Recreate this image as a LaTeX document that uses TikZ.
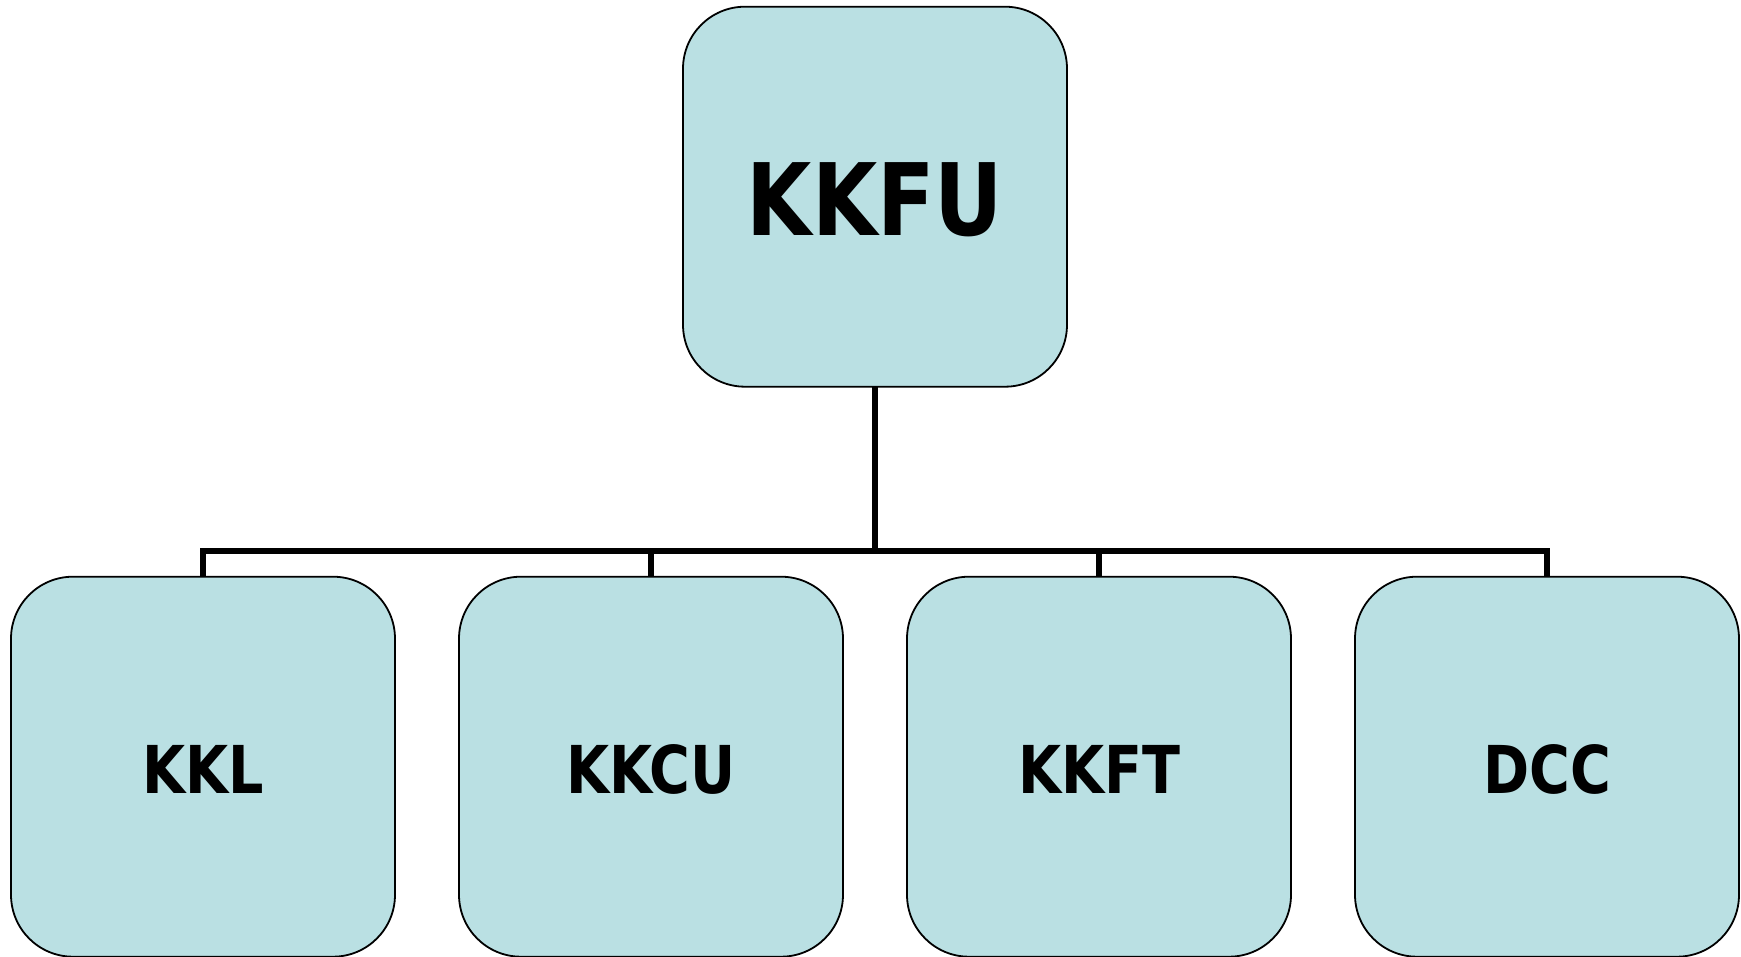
\documentclass[tikz,border=0pt]{standalone}
\usepackage{fontspec}
\newfontfamily\boxfont[FakeStretch=0.842]{DejaVu Sans}
\definecolor{boxfill}{RGB}{186,224,227}
\begin{document}
\begin{tikzpicture}[x=1pt,y=-1pt,
  orgbox/.style={draw=black, line width=1.8pt, fill=boxfill, rounded corners=62pt,
    minimum width=384pt, minimum height=380pt, inner sep=0pt, outer sep=0pt},
  boxtext/.style={font=\boxfont\bfseries\fontsize{66}{70}\selectfont, inner sep=0pt, yshift=-2.5pt},
  toptext/.style={font=\boxfont\bfseries\fontsize{100}{110}\selectfont, inner sep=0pt, yshift=-3.3pt},
  link/.style={draw=black, line width=6pt}]
\useasboundingbox (0,0) rectangle (1741,957);
\node[orgbox, label={[toptext]center:KKFU}] (top) at (875,196.7) {};
\node[orgbox, label={[boxtext]center:KKL}] (b1) at (203,766.7) {};
\node[orgbox, label={[boxtext]center:KKCU}] (b2) at (651,766.7) {};
\node[orgbox, label={[boxtext]center:KKFT}] (b3) at (1099,766.7) {};
\node[orgbox, label={[boxtext]center:DCC}] (b4) at (1547,766.7) {};
\coordinate (bus) at (875,551.3);
\draw[link] (top.south) -- (bus);
\draw[link, line join=miter] (b1.north) -- (b1.north |- bus) -- (b4.north |- bus) -- (b4.north);
\draw[link] (b2.north |- bus) -- (b2.north);
\draw[link] (b3.north |- bus) -- (b3.north);
\end{tikzpicture}
\end{document}
